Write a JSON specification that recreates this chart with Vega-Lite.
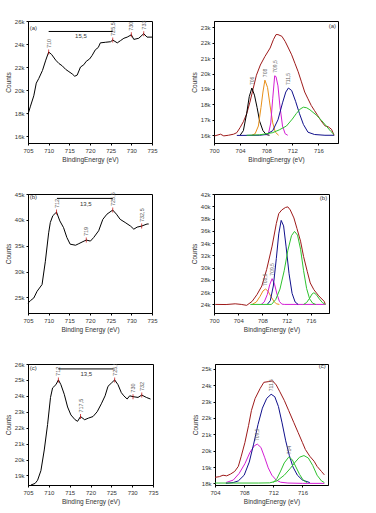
{
  "$schema": "https://vega.github.io/schema/vega-lite/v6.json",
  "background": "white",
  "padding": {"left": 4, "top": 17, "right": 2, "bottom": 2},
  "config": {
    "view": {"stroke": "black", "strokeWidth": 1},
    "axis": {"grid": false, "labelOverlap": false, "labelFlush": false, "labelFont": "Liberation Sans", "labelFontSize": 6, "labelColor": "#333", "titleFont": "Liberation Sans", "titleFontSize": 6.5, "titleFontWeight": "normal", "titleColor": "#333", "tickSize": 2, "tickColor": "black", "domainColor": "black", "labelPadding": 2, "titlePadding": 3},
    "text": {"font": "Liberation Sans"}
  },
  "datasets": {
    "p1": [
      {"e":705,"c":17900},{"e":705.6,"c":18600},{"e":706.4,"c":19500},{"e":707,"c":20600},{"e":707.6,"c":21000},{"e":708.5,"c":21700},{"e":709.3,"c":22600},{"e":710,"c":23300},{"e":710.7,"c":23100},{"e":711.7,"c":22600},{"e":712.5,"c":22300},{"e":713.3,"c":22100},{"e":714.1,"c":21800},{"e":714.9,"c":21600},{"e":715.7,"c":21400},{"e":716.3,"c":21200},{"e":716.9,"c":21300},{"e":717.7,"c":22000},{"e":718.5,"c":22200},{"e":719.1,"c":22500},{"e":719.9,"c":22700},{"e":720.5,"c":23000},{"e":721.3,"c":23500},{"e":722,"c":23700},{"e":722.5,"c":24100},{"e":723.7,"c":24150},{"e":725,"c":24200},{"e":725.5,"c":24350},{"e":726.6,"c":24100},{"e":727.4,"c":24300},{"e":728.2,"c":24500},{"e":729,"c":24600},{"e":730,"c":24800},{"e":730.6,"c":24400},{"e":731.8,"c":24500},{"e":733,"c":24900},{"e":733.8,"c":24600},{"e":735,"c":24600}
    ],
    "p1pk": [{"e":710,"c":23300,"t":"710"},{"e":725.5,"c":24350,"t":"725,5"},{"e":730,"c":24800,"t":"730"},{"e":733,"c":24900,"t":"733"}],
    "p1br": [{"e1":710,"e2":725.5,"em":717.8,"c":25090,"t":"15,5"}],
    "p1lab": [{"e":705.4,"c":25350,"t":"(a)"}],
    "p3": [
      {"e":705,"c":23900},{"e":705.6,"c":24400},{"e":706.4,"c":24900},{"e":707.2,"c":26200},{"e":708.4,"c":27500},{"e":709.2,"c":32000},{"e":710,"c":37500},{"e":710.4,"c":39500},{"e":711,"c":40800},{"e":711.9,"c":41500},{"e":712.7,"c":39800},{"e":713.6,"c":38500},{"e":714.4,"c":36600},{"e":715.2,"c":35300},{"e":716.5,"c":35100},{"e":717.3,"c":35400},{"e":718.3,"c":35800},{"e":719.1,"c":36100},{"e":720.1,"c":35900},{"e":720.9,"c":36600},{"e":722.1,"c":37900},{"e":723.1,"c":40100},{"e":724.1,"c":41100},{"e":725.5,"c":41900},{"e":726.4,"c":41100},{"e":727.3,"c":40100},{"e":728.5,"c":39500},{"e":729.8,"c":38800},{"e":730.6,"c":38200},{"e":731.4,"c":38600},{"e":732.5,"c":38800},{"e":733.8,"c":39200},{"e":734.2,"c":39200}
    ],
    "p3pk": [{"e":711.9,"c":41500,"t":"712"},{"e":719.1,"c":36100,"t":"719"},{"e":725.5,"c":41900,"t":"725,5"},{"e":732.5,"c":38800,"t":"732,5"}],
    "p3br": [{"e1":712,"e2":725.5,"em":719,"c":44150,"t":"13,5"}],
    "p3lab": [{"e":705.4,"c":44400,"t":"(b)"}],
    "p5": [
      {"e":705.7,"c":18400},{"e":706.7,"c":18500},{"e":707.3,"c":18700},{"e":708.1,"c":19300},{"e":708.9,"c":20600},{"e":709.7,"c":22200},{"e":710.4,"c":23900},{"e":710.9,"c":24500},{"e":711.7,"c":24700},{"e":712.3,"c":25000},{"e":712.9,"c":24700},{"e":713.7,"c":24100},{"e":714.5,"c":23300},{"e":715.3,"c":22800},{"e":716.3,"c":22500},{"e":716.9,"c":22400},{"e":717.6,"c":22700},{"e":718.6,"c":22500},{"e":719.5,"c":22600},{"e":720.6,"c":22700},{"e":721.6,"c":23000},{"e":722.6,"c":23500},{"e":723.5,"c":24000},{"e":724.2,"c":24600},{"e":725,"c":24800},{"e":725.8,"c":25000},{"e":726.6,"c":24700},{"e":727.4,"c":24200},{"e":728,"c":24000},{"e":728.8,"c":23800},{"e":729.4,"c":24000},{"e":730.2,"c":23950},{"e":731.4,"c":23900},{"e":732.3,"c":24050},{"e":733.4,"c":23900},{"e":734.4,"c":23800}
    ],
    "p5pk": [{"e":712.3,"c":25000,"t":"712"},{"e":717.6,"c":22700,"t":"717,5"},{"e":725.8,"c":25000,"t":"725,5"},{"e":730.2,"c":23950,"t":"730"},{"e":732.3,"c":24050,"t":"732"}],
    "p5br": [{"e1":712.3,"e2":725.5,"em":719,"c":25690,"t":"13,5"}],
    "p5lab": [{"e":705.4,"c":25750,"t":"(c)"}],
    "p2": [
      {"s":"env","e":700.1,"c":15960},{"s":"env","e":701.0,"c":16070},{"s":"env","e":701.5,"c":15960},{"s":"env","e":702.2,"c":16000},{"s":"env","e":703.0,"c":16070},{"s":"env","e":703.5,"c":16170},{"s":"env","e":704.0,"c":16500},{"s":"env","e":704.5,"c":16880},{"s":"env","e":705.0,"c":17380},{"s":"env","e":705.5,"c":18140},{"s":"env","e":706.0,"c":19020},{"s":"env","e":706.5,"c":19890},{"s":"env","e":707.1,"c":20550},{"s":"env","e":707.8,"c":21100},{"s":"env","e":708.6,"c":21650},{"s":"env","e":709.1,"c":22190},{"s":"env","e":709.5,"c":22520},{"s":"env","e":709.8,"c":22520},{"s":"env","e":710.4,"c":22410},{"s":"env","e":710.9,"c":22080},{"s":"env","e":711.4,"c":21650},{"s":"env","e":711.9,"c":21210},{"s":"env","e":712.4,"c":20660},{"s":"env","e":712.9,"c":20110},{"s":"env","e":713.4,"c":19460},{"s":"env","e":713.9,"c":18800},{"s":"env","e":714.4,"c":18360},{"s":"env","e":714.9,"c":17930},{"s":"env","e":715.4,"c":17600},{"s":"env","e":715.9,"c":17270},{"s":"env","e":716.4,"c":16940},{"s":"env","e":717.0,"c":16610},{"s":"env","e":717.5,"c":16550},{"s":"env","e":718.0,"c":16390},{"s":"env","e":718.4,"c":16000},
      {"s":"blk","e":704.0,"c":16000},{"s":"blk","e":704.5,"c":16300},{"s":"blk","e":705.0,"c":17400},{"s":"blk","e":705.4,"c":18500},{"s":"blk","e":705.8,"c":19060},{"s":"blk","e":706.2,"c":18600},{"s":"blk","e":706.6,"c":17800},{"s":"blk","e":707.0,"c":16900},{"s":"blk","e":707.5,"c":16300},{"s":"blk","e":708.0,"c":16050},{"s":"blk","e":708.5,"c":16000},
      {"s":"org","e":705.8,"c":16000},{"s":"org","e":706.3,"c":16100},{"s":"org","e":706.8,"c":16600},{"s":"org","e":707.2,"c":17800},{"s":"org","e":707.5,"c":18800},{"s":"org","e":707.8,"c":19570},{"s":"org","e":708.2,"c":19100},{"s":"org","e":708.6,"c":17900},{"s":"org","e":709.0,"c":16800},{"s":"org","e":709.4,"c":16200},{"s":"org","e":709.9,"c":16000},
      {"s":"mag","e":708.0,"c":16000},{"s":"mag","e":708.4,"c":16200},{"s":"mag","e":708.7,"c":16800},{"s":"mag","e":709.0,"c":18400},{"s":"mag","e":709.3,"c":19850},{"s":"mag","e":709.5,"c":19800},{"s":"mag","e":709.8,"c":19200},{"s":"mag","e":710.1,"c":17900},{"s":"mag","e":710.5,"c":16600},{"s":"mag","e":710.9,"c":16100},{"s":"mag","e":711.3,"c":16000},
      {"s":"blu","e":703.5,"c":15990},{"s":"blu","e":707.0,"c":16000},{"s":"blu","e":708.0,"c":16050},{"s":"blu","e":709.0,"c":16300},{"s":"blu","e":709.8,"c":17000},{"s":"blu","e":710.5,"c":18100},{"s":"blu","e":711.0,"c":18800},{"s":"blu","e":711.4,"c":19060},{"s":"blu","e":711.9,"c":18900},{"s":"blu","e":712.5,"c":18200},{"s":"blu","e":713.1,"c":17400},{"s":"blu","e":713.7,"c":16700},{"s":"blu","e":714.4,"c":16200},{"s":"blu","e":715.4,"c":16050},{"s":"blu","e":717.0,"c":16000},{"s":"blu","e":718.4,"c":16000},
      {"s":"grn","e":705.0,"c":16000},{"s":"grn","e":707.0,"c":16030},{"s":"grn","e":709.0,"c":16170},{"s":"grn","e":710.0,"c":16350},{"s":"grn","e":711.1,"c":16600},{"s":"grn","e":712.0,"c":17050},{"s":"grn","e":712.6,"c":17400},{"s":"grn","e":713.2,"c":17700},{"s":"grn","e":713.7,"c":17820},{"s":"grn","e":714.2,"c":17780},{"s":"grn","e":714.7,"c":17650},{"s":"grn","e":715.7,"c":17300},{"s":"grn","e":716.5,"c":16950},{"s":"grn","e":717.2,"c":16600},{"s":"grn","e":717.9,"c":16250},{"s":"grn","e":718.4,"c":16050}
    ],
    "p2pk": [{"e":705.8,"c":19060,"t":"706"},{"e":707.8,"c":19570,"t":"708"},{"e":709.3,"c":19850,"t":"709,5"},{"e":711.4,"c":19060,"t":"711,5"}],
    "p2lab": [{"e":718.7,"c":23050,"t":"(a)"}],
    "p4": [
      {"s":"env","e":700.2,"c":24000},{"s":"env","e":702.0,"c":23980},{"s":"env","e":703.5,"c":24100},{"s":"env","e":704.5,"c":24000},{"s":"env","e":705.4,"c":23850},{"s":"env","e":706.3,"c":24500},{"s":"env","e":707.1,"c":25600},{"s":"env","e":707.9,"c":27000},{"s":"env","e":708.7,"c":29700},{"s":"env","e":709.6,"c":33500},{"s":"env","e":710.3,"c":37200},{"s":"env","e":710.7,"c":38800},{"s":"env","e":711.2,"c":39400},{"s":"env","e":711.8,"c":39800},{"s":"env","e":712.2,"c":39900},{"s":"env","e":712.6,"c":39400},{"s":"env","e":713.2,"c":38100},{"s":"env","e":713.7,"c":36400},{"s":"env","e":714.3,"c":34300},{"s":"env","e":714.8,"c":31800},{"s":"env","e":715.4,"c":29400},{"s":"env","e":715.9,"c":27500},{"s":"env","e":716.5,"c":26400},{"s":"env","e":717.3,"c":25400},{"s":"env","e":718.2,"c":24500},{"s":"env","e":718.4,"c":24000},
      {"s":"org","e":706.3,"c":24000},{"s":"org","e":707.0,"c":24400},{"s":"org","e":707.6,"c":25300},{"s":"org","e":708.1,"c":26200},{"s":"org","e":708.5,"c":26500},{"s":"org","e":708.9,"c":26200},{"s":"org","e":709.4,"c":25300},{"s":"org","e":709.9,"c":24500},{"s":"org","e":710.3,"c":24100},{"s":"org","e":710.8,"c":24000},
      {"s":"mag","e":707.8,"c":24000},{"s":"mag","e":708.3,"c":24400},{"s":"mag","e":708.8,"c":25600},{"s":"mag","e":709.2,"c":27200},{"s":"mag","e":709.6,"c":28200},{"s":"mag","e":710.0,"c":27300},{"s":"mag","e":710.4,"c":25700},{"s":"mag","e":710.8,"c":24500},{"s":"mag","e":711.2,"c":24050},{"s":"mag","e":711.6,"c":24000},{"s":"mag","e":718.4,"c":24000},
      {"s":"blu","e":708.8,"c":24000},{"s":"blu","e":709.3,"c":24600},{"s":"blu","e":709.8,"c":27000},{"s":"blu","e":710.3,"c":31500},{"s":"blu","e":710.7,"c":35500},{"s":"blu","e":711.1,"c":37700},{"s":"blu","e":711.5,"c":36800},{"s":"blu","e":711.9,"c":33500},{"s":"blu","e":712.4,"c":29000},{"s":"blu","e":712.9,"c":25800},{"s":"blu","e":713.4,"c":24400},{"s":"blu","e":713.9,"c":24000},
      {"s":"grn","e":706.0,"c":24000},{"s":"grn","e":709.5,"c":24000},{"s":"grn","e":710.2,"c":24800},{"s":"grn","e":710.9,"c":26500},{"s":"grn","e":711.6,"c":29500},{"s":"grn","e":712.2,"c":32800},{"s":"grn","e":712.8,"c":35200},{"s":"grn","e":713.3,"c":35900},{"s":"grn","e":713.8,"c":35300},{"s":"grn","e":714.3,"c":33000},{"s":"grn","e":714.8,"c":29500},{"s":"grn","e":715.3,"c":26600},{"s":"grn","e":715.8,"c":24900},{"s":"grn","e":716.3,"c":24200},{"s":"grn","e":716.8,"c":24000},
      {"s":"grn2","e":714.8,"c":24000},{"s":"grn2","e":715.3,"c":24300},{"s":"grn2","e":715.8,"c":25000},{"s":"grn2","e":716.2,"c":25700},{"s":"grn2","e":716.5,"c":25900},{"s":"grn2","e":716.9,"c":25600},{"s":"grn2","e":717.4,"c":24900},{"s":"grn2","e":717.9,"c":24300},{"s":"grn2","e":718.4,"c":24000}
    ],
    "p4pk": [{"e":708.5,"c":26500,"t":"708,5"},{"e":709.6,"c":28200,"t":"709,5"}],
    "p4lab": [{"e":718.7,"c":41300,"t":"(b)"}],
    "p6": [
      {"s":"env","e":704.0,"c":18370},{"s":"env","e":704.6,"c":18410},{"s":"env","e":705.1,"c":18500},{"s":"env","e":705.6,"c":18460},{"s":"env","e":706.1,"c":18560},{"s":"env","e":706.7,"c":18730},{"s":"env","e":707.2,"c":19040},{"s":"env","e":707.6,"c":19660},{"s":"env","e":708.1,"c":20490},{"s":"env","e":708.6,"c":21530},{"s":"env","e":709.0,"c":22460},{"s":"env","e":709.5,"c":23190},{"s":"env","e":710.2,"c":23810},{"s":"env","e":710.7,"c":24180},{"s":"env","e":711.3,"c":24220},{"s":"env","e":711.9,"c":24270},{"s":"env","e":712.4,"c":24020},{"s":"env","e":712.9,"c":23600},{"s":"env","e":713.5,"c":23080},{"s":"env","e":714.1,"c":22460},{"s":"env","e":714.8,"c":21730},{"s":"env","e":715.4,"c":21110},{"s":"env","e":716.0,"c":20490},{"s":"env","e":716.4,"c":20070},{"s":"env","e":717.0,"c":19660},{"s":"env","e":717.6,"c":19350},{"s":"env","e":718.0,"c":19040},{"s":"env","e":718.6,"c":18730},{"s":"env","e":719.0,"c":18520},
      {"s":"mag","e":705.5,"c":18050},{"s":"mag","e":706.5,"c":18200},{"s":"mag","e":707.3,"c":18600},{"s":"mag","e":708.1,"c":19200},{"s":"mag","e":708.8,"c":19900},{"s":"mag","e":709.4,"c":20300},{"s":"mag","e":709.8,"c":20400},{"s":"mag","e":710.3,"c":20200},{"s":"mag","e":710.8,"c":19600},{"s":"mag","e":711.3,"c":18950},{"s":"mag","e":711.8,"c":18500},{"s":"mag","e":712.4,"c":18200},{"s":"mag","e":713.0,"c":18070},{"s":"mag","e":714.0,"c":18020},{"s":"mag","e":716.0,"c":18000},{"s":"mag","e":719.0,"c":18000},
      {"s":"blu","e":705.5,"c":18000},{"s":"blu","e":706.5,"c":18050},{"s":"blu","e":707.2,"c":18150},{"s":"blu","e":708.0,"c":18500},{"s":"blu","e":708.7,"c":19300},{"s":"blu","e":709.3,"c":20400},{"s":"blu","e":709.9,"c":21600},{"s":"blu","e":710.5,"c":22600},{"s":"blu","e":711.1,"c":23200},{"s":"blu","e":711.7,"c":23450},{"s":"blu","e":712.2,"c":23300},{"s":"blu","e":712.7,"c":22700},{"s":"blu","e":713.2,"c":21700},{"s":"blu","e":713.7,"c":20600},{"s":"blu","e":714.2,"c":19700},{"s":"blu","e":714.7,"c":19000},{"s":"blu","e":715.3,"c":18500},{"s":"blu","e":716.0,"c":18200},{"s":"blu","e":717.0,"c":18050},
      {"s":"grn","e":712.0,"c":18050},{"s":"grn","e":712.5,"c":18300},{"s":"grn","e":713.0,"c":18750},{"s":"grn","e":713.5,"c":19250},{"s":"grn","e":714.1,"c":19600},{"s":"grn","e":714.6,"c":19450},{"s":"grn","e":715.1,"c":19000},{"s":"grn","e":715.6,"c":18550},{"s":"grn","e":716.1,"c":18200},{"s":"grn","e":716.6,"c":18050},
      {"s":"grn2","e":704.0,"c":18020},{"s":"grn2","e":710.0,"c":18020},{"s":"grn2","e":711.5,"c":18030},{"s":"grn2","e":712.5,"c":18150},{"s":"grn2","e":713.5,"c":18500},{"s":"grn2","e":714.3,"c":18900},{"s":"grn2","e":715.0,"c":19300},{"s":"grn2","e":715.6,"c":19600},{"s":"grn2","e":716.2,"c":19700},{"s":"grn2","e":716.8,"c":19550},{"s":"grn2","e":717.4,"c":19100},{"s":"grn2","e":718.0,"c":18500},{"s":"grn2","e":718.6,"c":18150},{"s":"grn2","e":719.0,"c":18050}
    ],
    "p6pk": [{"e":709.8,"c":20400,"t":"709,5"},{"e":711.7,"c":23450,"t":"711,5"},{"e":714.1,"c":19600,"t":"714"}],
    "p6lab": [{"e":719.2,"c":25150,"t":"(c)"}]
  },
  "spacing": 27,
  "vconcat": [
    {
      "spacing": 32,
      "hconcat": [
        {
          "width": 124, "height": 122,
          "layer": [
            {"data": {"name": "p1"}, "mark": {"type": "line", "color": "black", "strokeWidth": 1},
             "encoding": {
               "x": {"field": "e", "type": "quantitative", "scale": {"domain": [705, 735], "nice": false, "zero": false}, "axis": {"values": [705,710,715,720,725,730,735], "tickCount": 50, "format": "d", "labelOverlap": false, "title": "BindingEnergy (eV)"}},
               "y": {"field": "c", "type": "quantitative", "scale": {"domain": [15400, 26000], "nice": false, "zero": false}, "axis": {"values": [16000,18000,20000,22000,24000,26000], "tickCount": 50, "labelOverlap": false, "format": "~s", "title": "Counts"}}}},
            {"data": {"name": "p1pk"}, "mark": {"type": "tick", "orient": "vertical", "color": "#C00000", "size": 5, "thickness": 1},
             "encoding": {"x": {"field": "e", "type": "quantitative"}, "y": {"field": "c", "type": "quantitative"}}},
            {"data": {"name": "p1pk"}, "mark": {"type": "text", "angle": 270, "align": "left", "baseline": "middle", "dx": 4, "fontSize": 5.5, "color": "#555"},
             "encoding": {"x": {"field": "e", "type": "quantitative"}, "y": {"field": "c", "type": "quantitative"}, "text": {"field": "t"}}},
            {"data": {"name": "p1br"}, "mark": {"type": "rule", "color": "black", "strokeWidth": 1},
             "encoding": {"x": {"field": "e1", "type": "quantitative"}, "x2": {"field": "e2"}, "y": {"field": "c", "type": "quantitative"}}},
            {"data": {"name": "p1br"}, "mark": {"type": "text", "baseline": "middle", "dy": 5, "fontSize": 6, "color": "#333"},
             "encoding": {"x": {"field": "em", "type": "quantitative"}, "y": {"field": "c", "type": "quantitative"}, "text": {"field": "t"}}},
            {"data": {"name": "p1lab"}, "mark": {"type": "text", "align": "left", "baseline": "middle", "fontSize": 6, "color": "#333"},
             "encoding": {"x": {"field": "e", "type": "quantitative"}, "y": {"field": "c", "type": "quantitative"}, "text": {"field": "t"}}}
          ]
        },
        {
          "width": 124, "height": 122,
          "layer": [
            {"data": {"name": "p2"}, "mark": {"type": "line", "strokeWidth": 1},
             "encoding": {
               "x": {"field": "e", "type": "quantitative", "scale": {"domain": [700, 719], "nice": false, "zero": false}, "axis": {"values": [700,704,708,712,716], "tickCount": 50, "format": "d", "labelOverlap": false, "title": "BindingEnergy (eV)"}},
               "y": {"field": "c", "type": "quantitative", "scale": {"domain": [15500, 23400], "nice": false, "zero": false}, "axis": {"values": [16000,17000,18000,19000,20000,21000,22000,23000], "tickCount": 50, "labelOverlap": false, "format": "~s", "title": "Counts"}},
               "color": {"field": "s", "type": "nominal", "legend": null, "scale": {"domain": ["grn","blu","mag","org","blk","env"], "range": ["#2EC22E","#10108C","#D41ED4","#E8901A","#000000","#9E1A1A"]}}}},
            {"data": {"name": "p2pk"}, "mark": {"type": "text", "angle": 270, "align": "left", "baseline": "middle", "dx": 3, "fontSize": 5, "color": "#666"},
             "encoding": {"x": {"field": "e", "type": "quantitative"}, "y": {"field": "c", "type": "quantitative"}, "text": {"field": "t"}}},
            {"data": {"name": "p2lab"}, "mark": {"type": "text", "align": "right", "baseline": "middle", "fontSize": 6, "color": "#333"},
             "encoding": {"x": {"field": "e", "type": "quantitative"}, "y": {"field": "c", "type": "quantitative"}, "text": {"field": "t"}}}
          ]
        }
      ]
    },
    {
      "spacing": 32,
      "hconcat": [
        {
          "width": 124, "height": 119,
          "layer": [
            {"data": {"name": "p3"}, "mark": {"type": "line", "color": "black", "strokeWidth": 1},
             "encoding": {
               "x": {"field": "e", "type": "quantitative", "scale": {"domain": [705, 735], "nice": false, "zero": false}, "axis": {"values": [705,710,715,720,725,730,735], "tickCount": 50, "format": "d", "labelOverlap": false, "title": "Binding Energy (eV)"}},
               "y": {"field": "c", "type": "quantitative", "scale": {"domain": [22000, 45000], "nice": false, "zero": false}, "axis": {"values": [25000,30000,35000,40000,45000], "tickCount": 50, "labelOverlap": false, "format": "~s", "title": "Counts"}}}},
            {"data": {"name": "p3pk"}, "mark": {"type": "tick", "orient": "vertical", "color": "#C00000", "size": 5, "thickness": 1},
             "encoding": {"x": {"field": "e", "type": "quantitative"}, "y": {"field": "c", "type": "quantitative"}}},
            {"data": {"name": "p3pk"}, "mark": {"type": "text", "angle": 270, "align": "left", "baseline": "middle", "dx": 4, "fontSize": 5.5, "color": "#555"},
             "encoding": {"x": {"field": "e", "type": "quantitative"}, "y": {"field": "c", "type": "quantitative"}, "text": {"field": "t"}}},
            {"data": {"name": "p3br"}, "mark": {"type": "rule", "color": "black", "strokeWidth": 1},
             "encoding": {"x": {"field": "e1", "type": "quantitative"}, "x2": {"field": "e2"}, "y": {"field": "c", "type": "quantitative"}}},
            {"data": {"name": "p3br"}, "mark": {"type": "text", "baseline": "middle", "dy": 6, "fontSize": 6, "color": "#333"},
             "encoding": {"x": {"field": "em", "type": "quantitative"}, "y": {"field": "c", "type": "quantitative"}, "text": {"field": "t"}}},
            {"data": {"name": "p3lab"}, "mark": {"type": "text", "align": "left", "baseline": "middle", "fontSize": 6, "color": "#333"},
             "encoding": {"x": {"field": "e", "type": "quantitative"}, "y": {"field": "c", "type": "quantitative"}, "text": {"field": "t"}}}
          ]
        },
        {
          "width": 115, "height": 119,
          "layer": [
            {"data": {"name": "p4"}, "mark": {"type": "line", "strokeWidth": 1},
             "encoding": {
               "x": {"field": "e", "type": "quantitative", "scale": {"domain": [700, 719], "nice": false, "zero": false}, "axis": {"values": [700,704,708,712,716], "tickCount": 50, "format": "d", "labelOverlap": false, "title": "BindingEnergy (eV)"}},
               "y": {"field": "c", "type": "quantitative", "scale": {"domain": [22600, 42000], "nice": false, "zero": false}, "axis": {"values": [24000,26000,28000,30000,32000,34000,36000,38000,40000,42000], "tickCount": 50, "labelOverlap": false, "format": "~s", "title": "Counts"}},
               "color": {"field": "s", "type": "nominal", "legend": null, "scale": {"domain": ["grn","grn2","mag","org","blu","env"], "range": ["#2EC22E","#2EC22E","#D41ED4","#E8901A","#10108C","#9E1A1A"]}}}},
            {"data": {"name": "p4pk"}, "mark": {"type": "text", "angle": 270, "align": "left", "baseline": "middle", "dx": 3, "fontSize": 5, "color": "#666"},
             "encoding": {"x": {"field": "e", "type": "quantitative"}, "y": {"field": "c", "type": "quantitative"}, "text": {"field": "t"}}},
            {"data": {"name": "p4lab"}, "mark": {"type": "text", "align": "right", "baseline": "middle", "fontSize": 6, "color": "#333"},
             "encoding": {"x": {"field": "e", "type": "quantitative"}, "y": {"field": "c", "type": "quantitative"}, "text": {"field": "t"}}}
          ]
        }
      ]
    },
    {
      "spacing": 32,
      "hconcat": [
        {
          "width": 125, "height": 121,
          "layer": [
            {"data": {"name": "p5"}, "mark": {"type": "line", "color": "black", "strokeWidth": 1},
             "encoding": {
               "x": {"field": "e", "type": "quantitative", "scale": {"domain": [705, 735], "nice": false, "zero": false}, "axis": {"values": [705,710,715,720,725,730,735], "tickCount": 50, "format": "d", "labelOverlap": false, "title": "Binding Energy (eV)"}},
               "y": {"field": "c", "type": "quantitative", "scale": {"domain": [18400, 26000], "nice": false, "zero": false}, "axis": {"values": [19000,20000,21000,22000,23000,24000,25000,26000], "tickCount": 50, "labelOverlap": false, "format": "~s", "title": "Counts"}}}},
            {"data": {"name": "p5pk"}, "mark": {"type": "tick", "orient": "vertical", "color": "#C00000", "size": 5, "thickness": 1},
             "encoding": {"x": {"field": "e", "type": "quantitative"}, "y": {"field": "c", "type": "quantitative"}}},
            {"data": {"name": "p5pk"}, "mark": {"type": "text", "angle": 270, "align": "left", "baseline": "middle", "dx": 4, "fontSize": 5.5, "color": "#555", "clip": true},
             "encoding": {"x": {"field": "e", "type": "quantitative"}, "y": {"field": "c", "type": "quantitative"}, "text": {"field": "t"}}},
            {"data": {"name": "p5br"}, "mark": {"type": "rule", "color": "black", "strokeWidth": 1},
             "encoding": {"x": {"field": "e1", "type": "quantitative"}, "x2": {"field": "e2"}, "y": {"field": "c", "type": "quantitative"}}},
            {"data": {"name": "p5br"}, "mark": {"type": "text", "baseline": "middle", "dy": 5, "fontSize": 6, "color": "#333"},
             "encoding": {"x": {"field": "em", "type": "quantitative"}, "y": {"field": "c", "type": "quantitative"}, "text": {"field": "t"}}},
            {"data": {"name": "p5lab"}, "mark": {"type": "text", "align": "left", "baseline": "middle", "fontSize": 6, "color": "#333"},
             "encoding": {"x": {"field": "e", "type": "quantitative"}, "y": {"field": "c", "type": "quantitative"}, "text": {"field": "t"}}}
          ]
        },
        {
          "width": 113, "height": 121,
          "layer": [
            {"data": {"name": "p6"}, "mark": {"type": "line", "strokeWidth": 1},
             "encoding": {
               "x": {"field": "e", "type": "quantitative", "scale": {"domain": [704, 719.5], "nice": false, "zero": false}, "axis": {"values": [704,708,712,716], "tickCount": 50, "format": "d", "labelOverlap": false, "title": "BindingEnergy (eV)"}},
               "y": {"field": "c", "type": "quantitative", "scale": {"domain": [17900, 25300], "nice": false, "zero": false}, "axis": {"values": [18000,19000,20000,21000,22000,23000,24000,25000], "tickCount": 50, "labelOverlap": false, "format": "~s", "title": "Counts"}},
               "color": {"field": "s", "type": "nominal", "legend": null, "scale": {"domain": ["grn","grn2","mag","blu","env"], "range": ["#2EC22E","#2EC22E","#D41ED4","#10108C","#C0141E"]}}}},
            {"data": {"name": "p6pk"}, "mark": {"type": "text", "angle": 270, "align": "left", "baseline": "middle", "dx": 3, "fontSize": 5, "color": "#666"},
             "encoding": {"x": {"field": "e", "type": "quantitative"}, "y": {"field": "c", "type": "quantitative"}, "text": {"field": "t"}}},
            {"data": {"name": "p6lab"}, "mark": {"type": "text", "align": "right", "baseline": "middle", "fontSize": 6, "color": "#333"},
             "encoding": {"x": {"field": "e", "type": "quantitative"}, "y": {"field": "c", "type": "quantitative"}, "text": {"field": "t"}}}
          ]
        }
      ]
    }
  ]
}
